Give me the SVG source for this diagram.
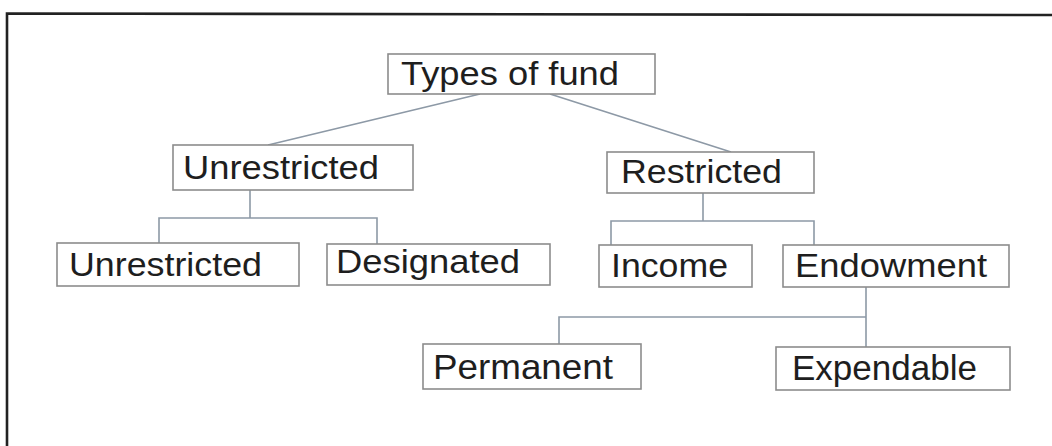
<svg xmlns="http://www.w3.org/2000/svg" width="1052" height="446" viewBox="0 0 1052 446">
<style>
.box{fill:#fff;stroke:#8c8c8c;stroke-width:1.6}
.t{font-family:"Liberation Sans",Arial,sans-serif;font-size:33px;fill:#1e1e1e}
.b{font-size:35px}
.c{fill:none;stroke:#8d99a6;stroke-width:1.6}
</style>
<rect width="1052" height="446" fill="#fff"/>
<path d="M7 446 V13.5 L1052 15" fill="none" stroke="#222" stroke-width="2.6"/>
<g id="connectors">
<path class="c" d="M480 94 L268 145 M550 94 L731 152"/>
<path class="c" d="M250 190 V218 M159 243 V218 H377 V244"/>
<path class="c" d="M703 193 V221 M611 245 V221 H814 V245"/>
<path class="c" d="M866 287 V347 M559 344 V317 H866"/>
</g>
<g id="types"><rect class="box" x="388" y="54" width="267" height="40"/><text class="t" x="401" y="85" textLength="218" lengthAdjust="spacingAndGlyphs">Types of fund</text></g>
<g id="unrestricted"><rect class="box" x="173" y="145" width="240" height="45"/><text class="t" x="183" y="179" textLength="196" lengthAdjust="spacingAndGlyphs">Unrestricted</text></g>
<g id="restricted"><rect class="box" x="607" y="152" width="207" height="41"/><text class="t" x="621" y="183" textLength="161" lengthAdjust="spacingAndGlyphs">Restricted</text></g>
<g id="unrestricted2"><rect class="box" x="57" y="243" width="242" height="43"/><text class="t" x="69" y="276" textLength="193" lengthAdjust="spacingAndGlyphs">Unrestricted</text></g>
<g id="designated"><rect class="box" x="327" y="244" width="223" height="41"/><text class="t" x="336" y="273" textLength="184" lengthAdjust="spacingAndGlyphs">Designated</text></g>
<g id="income"><rect class="box" x="599" y="245" width="153" height="42"/><text class="t" x="611" y="277" textLength="117" lengthAdjust="spacingAndGlyphs">Income</text></g>
<g id="endowment"><rect class="box" x="783" y="245" width="226" height="42"/><text class="t" x="795" y="277" textLength="192" lengthAdjust="spacingAndGlyphs">Endowment</text></g>
<g id="permanent"><rect class="box" x="423" y="344" width="218" height="45"/><text class="t b" x="433" y="379" textLength="180" lengthAdjust="spacingAndGlyphs">Permanent</text></g>
<g id="expendable"><rect class="box" x="776" y="347" width="234" height="43"/><text class="t b" x="792" y="380" textLength="185" lengthAdjust="spacingAndGlyphs">Expendable</text></g>
</svg>
